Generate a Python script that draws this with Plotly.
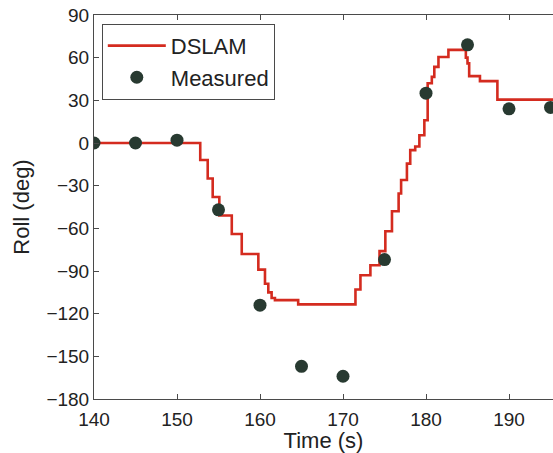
import plotly.graph_objects as go

# DSLAM roll estimate: times (s) at which the estimate changes, and the value held from then on (deg)
dslam_time = [140.0, 152.8, 153.7, 154.3, 155.1, 156.6, 157.8, 159.8, 160.6, 161.0, 161.4, 161.8,
              164.6, 171.5, 172.1, 173.3, 174.4, 175.1, 175.9, 176.7, 177.0, 177.7, 178.1, 178.7,
              179.2, 179.8, 180.2, 180.7, 181.0, 181.5, 182.7, 184.8, 185.0, 185.2, 186.5, 188.6,
              196.0]
dslam_roll = [0.0, -12.0, -25.0, -38.0, -51.0, -64.0, -78.0, -89.0, -99.0, -105.0, -109.0, -110.5,
              -113.5, -103.0, -93.0, -86.0, -76.0, -62.0, -48.0, -35.5, -26.0, -14.5, -5.0, -2.5,
              5.5, 16.0, 42.0, 46.5, 53.5, 60.5, 65.5, 60.0, 56.0, 47.0, 43.5, 30.5,
              30.5]

# Measured roll, sampled every 5 s
measured_time = [140, 145, 150, 155, 160, 165, 170, 175, 180, 185, 190, 195]
measured_roll = [0, 0, 2, -47, -114, -157, -164, -82, 35, 69, 24, 25]

x_ticks = [140, 150, 160, 170, 180, 190]
y_ticks = [-180, -150, -120, -90, -60, -30, 0, 30, 60, 90]

fig = go.Figure()
fig.add_trace(go.Scatter(
    x=dslam_time, y=dslam_roll, mode="lines", name="DSLAM",
    line=dict(color="#d42b1f", width=2.6, shape="hv"),
))
fig.add_trace(go.Scatter(
    x=measured_time, y=measured_roll, mode="markers", name="Measured",
    marker=dict(color="#283a31", size=13, line=dict(width=0)),
))

axis_common = dict(
    showgrid=False, zeroline=False, showline=True, linecolor="#4a4a4a", linewidth=1,
    ticks="inside", ticklen=5, tickcolor="#4a4a4a",
    tickfont=dict(size=19, color="#222222"),
)
fig.update_xaxes(
    range=[140, 195.3], tickvals=x_ticks, mirror="ticks", ticklabelstandoff=3,
    title=dict(text="Time (s)", font=dict(size=22, color="#222222"), standoff=8),
    **axis_common,
)
fig.update_yaxes(
    range=[-180, 90], tickvals=y_ticks, mirror=False,
    title=dict(text="Roll (deg)", font=dict(size=22, color="#222222"), standoff=10),
    **axis_common,
)

fig.update_layout(
    width=553, height=453,
    margin=dict(l=94, r=0, t=15, b=54),
    paper_bgcolor="white", plot_bgcolor="white",
    font=dict(family="Liberation Sans, Arial, sans-serif", color="#222222"),
    legend=dict(
        x=0.017, y=0.977, xanchor="left", yanchor="top",
        bgcolor="white", bordercolor="#4a4a4a", borderwidth=1,
        font=dict(size=22, color="#222222"),
        itemwidth=58, tracegroupgap=0,
    ),
)

fig.write_html("out.html")
